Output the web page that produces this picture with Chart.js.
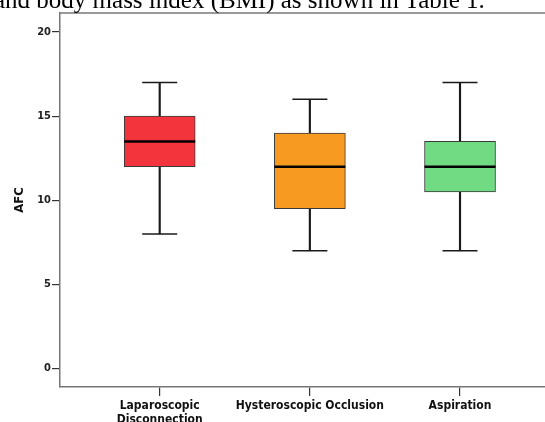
<!DOCTYPE html>
<html>
<head>
<meta charset="utf-8">
<script src="https://cdn.jsdelivr.net/npm/chart.js@4.4.1/dist/chart.umd.min.js"></script>
<style>
  html, body { margin: 0; padding: 0; background: #fff; overflow: hidden; }
  #wrap { position: relative; width: 545px; height: 422px; }
  #doc { position: absolute; left: -6px; top: -13px; font-family: "Liberation Serif", "Times New Roman", serif;
         font-size: 25px; line-height: 25px; white-space: nowrap; color: #000; }
  canvas { position: absolute; left: 0; top: 0; }
</style>
</head>
<body>
<div id="wrap">
  <canvas id="c" width="545" height="422"></canvas>
  <div id="doc">and body mass index (BMI) as shown in Table 1.</div>
</div>
<script>
const categoryLabels = [['Laparoscopic', 'Disconnection'], ['Hysteroscopic Occlusion'], ['Aspiration']];
const categoryPositions = [1, 2, 3];
const whiskerMin = [8, 7, 7];
const q1 = [12, 9.5, 10.5];
const median = [13.5, 12, 12];
const q3 = [15, 14, 13.5];
const whiskerMax = [17, 16, 17];
const boxColors = ['#F2343C', '#F79A20', '#70DB83'];
const yTicks = [0, 5, 10, 15, 20];
const yTitle = 'AFC';

const FONT = "'DejaVu Sans Condensed', 'DejaVu Sans', sans-serif";

const whiskerData = categoryPositions.map((x, i) => ({ x, y: [whiskerMin[i], whiskerMax[i]] }));
const boxData = categoryPositions.map((x, i) => ({ x, y: [q1[i], q3[i]] }));
const capData = [];
categoryPositions.forEach((x, i) => { capData.push({ x, y: whiskerMin[i] }); capData.push({ x, y: whiskerMax[i] }); });
const medianData = categoryPositions.map((x, i) => ({ x, y: median[i] }));

const noPad = s => { s.paddingLeft = 0; s.paddingRight = 0; s.paddingTop = 0; s.paddingBottom = 0; };

const topFrame = {
  id: 'topFrame',
  afterDraw(chart) {
    const { ctx, chartArea } = chart;
    ctx.save();
    ctx.strokeStyle = '#777';
    ctx.lineWidth = 1.5;
    ctx.beginPath();
    ctx.moveTo(chartArea.left, chartArea.top);
    ctx.lineTo(chart.width, chartArea.top);
    ctx.stroke();
    ctx.restore();
  }
};

new Chart(document.getElementById('c'), {
  type: 'bar',
  data: {
    datasets: [
      { type: 'bar', data: whiskerData, backgroundColor: '#1a1a1a', borderWidth: 0, barThickness: 1.5, grouped: false, order: 4 },
      { type: 'bar', data: boxData, backgroundColor: boxColors, borderColor: '#3a3a3a', borderWidth: 1, borderSkipped: false, barThickness: 71, grouped: false, order: 3 },
      { type: 'line', data: capData, showLine: false, clip: false, pointStyle: 'line', pointRadius: 17.5, pointHoverRadius: 17.5, pointBorderWidth: 1.5, pointBorderColor: '#1a1a1a', order: 2 },
      { type: 'line', data: medianData, showLine: false, clip: false, pointStyle: 'line', pointRadius: 35.5, pointHoverRadius: 35.5, pointBorderWidth: 2.5, pointBorderColor: '#000', order: 1 }
    ]
  },
  plugins: [topFrame],
  options: {
    responsive: false,
    animation: false,
    events: [],
    layout: { autoPadding: false, padding: { top: 13, left: 0, right: 0, bottom: 0 } },
    plugins: { legend: { display: false }, tooltip: { enabled: false } },
    scales: {
      x: {
        type: 'linear', position: 'bottom', min: 0.336, max: 3.566, offset: false,
        afterBuildTicks: s => { s.ticks = categoryPositions.map(v => ({ value: v })); },
        afterFit: s => { s.height = 35; noPad(s); },
        ticks: {
          callback: (v) => { const i = categoryPositions.indexOf(v); return i >= 0 ? categoryLabels[i] : ''; },
          font: { family: FONT, size: 12, weight: 'bold', lineHeight: 1.15 }, color: '#111', padding: 3, maxRotation: 0, autoSkip: false
        },
        grid: { drawOnChartArea: false, offset: false, tickLength: 9, color: '#333', lineWidth: 1.2 },
        border: { color: '#777', width: 1.5 }
      },
      y: {
        type: 'linear', min: -1.095, max: 21.13,
        afterBuildTicks: s => { s.ticks = yTicks.map(v => ({ value: v })); },
        afterFit: s => { s.width = 60; noPad(s); },
        ticks: { font: { family: FONT, size: 11, weight: 'bold' }, color: '#222', padding: 1 },
        grid: { drawOnChartArea: false, tickLength: 8, color: '#333', lineWidth: 1.2 },
        border: { color: '#777', width: 1.5 },
        title: { display: true, text: yTitle, font: { family: FONT, size: 13, weight: 'bold' }, color: '#111', padding: { top: 12, bottom: 0 } }
      }
    }
  }
});
</script>
</body>
</html>
